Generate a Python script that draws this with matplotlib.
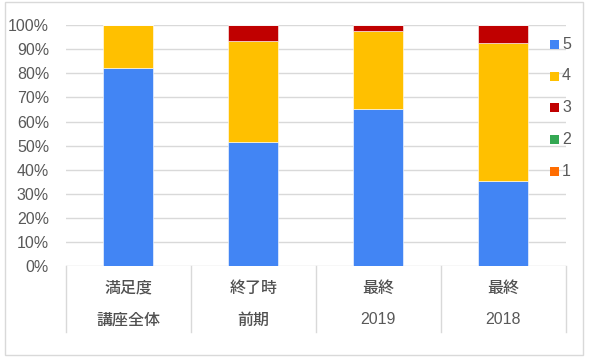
import matplotlib
matplotlib.use("Agg")
import matplotlib.pyplot as plt
from matplotlib.patches import Rectangle
import numpy as np

categories_line1 = ["満足度", "終了時", "最終", "最終"]
categories_line2 = ["講座全体", "前期", "2019", "2018"]
series_names = ["5", "4", "3", "2", "1"]
s5 = [82.4, 51.5, 65.0, 35.4]
s4 = [17.6, 42.1, 32.5, 57.4]
s3 = [0.0, 6.4, 2.5, 7.2]
s2 = [0.0, 0.0, 0.0, 0.0]
s1 = [0.0, 0.0, 0.0, 0.0]
series_values = [s5, s4, s3, s2, s1]
colors = ["#4285F4", "#FFC000", "#C00000", "#34A853", "#FF6D01"]
yticks = [0, 10, 20, 30, 40, 50, 60, 70, 80, 90, 100]

FONT = ["Liberation Sans", "Noto Sans CJK JP", "DejaVu Sans"]
plt.rcParams["font.family"] = FONT
TXT = "#595959"
GRID = "#D9D9D9"

W, H = 593, 358
fig = plt.figure(figsize=(W / 100, H / 100), dpi=100)

def fx(px):
    return px / W

def fy(py):
    return 1 - py / H

ax_l, ax_r, ax_t, ax_b = 65.7, 565.7, 25.3, 265.8
ax = fig.add_axes([fx(ax_l), fy(ax_b), fx(ax_r - ax_l), (ax_b - ax_t) / H])

x = np.arange(len(categories_line1))
bottom = np.zeros(len(x))
for name, vals, c in zip(series_names, series_values, colors):
    v = np.array(vals)
    ax.bar(x, v, width=0.4, bottom=bottom, color=c, edgecolor="white",
           linewidth=0.4, zorder=3)
    bottom += v

ax.set_xlim(-0.5, len(x) - 0.5)
ax.set_ylim(0, 100)
ax.set_yticks(yticks)
ax.set_yticklabels([f"{t}%" for t in yticks])
ax.tick_params(axis="y", length=0, pad=12, labelsize=11.5, labelcolor=TXT)
ax.tick_params(axis="x", length=0, labelbottom=False)
ax.set_xticks([])
for s in ax.spines.values():
    s.set_visible(False)
for t in yticks:
    ax.axhline(t, color=GRID, linewidth=1, zorder=1)

# category table below axis
sep_top, sep_bot = ax_b, 331.7
cat_w = (ax_r - ax_l) / len(x)
for i in range(len(x) + 1):
    xp = ax_l + i * cat_w
    fig.add_artist(plt.Line2D([fx(xp), fx(xp)], [fy(sep_top), fy(sep_bot)],
                              color=GRID, linewidth=1))

def is_cjk(s):
    return any(ord(ch) > 127 for ch in s)

for i in range(len(x)):
    xc = ax_l + (i + 0.5) * cat_w
    for lab, yp in ((categories_line1[i], 288), (categories_line2[i], 320)):
        cjk = is_cjk(lab)
        fig.text(fx(xc), fy(yp), lab, ha="center", va="center",
                 fontsize=11.5, color="#505050" if cjk else TXT,
                 fontweight="medium" if cjk else "normal",
                 family=(["Noto Sans CJK JP", "DejaVu Sans"] if cjk else FONT))

# legend
leg_y = [44.3, 76.0, 107.7, 139.3, 171.2]
for name, c, yp in zip(series_names, colors, leg_y):
    fig.add_artist(Rectangle((fx(550), fy(yp + 4.5)), fx(9), 9 / H,
                             facecolor=c, edgecolor="none"))
    fig.text(fx(562), fy(yp), name, ha="left", va="center", fontsize=11.5,
             color=TXT, family=FONT)

# outer border
fig.add_artist(Rectangle((fx(5), fy(354.7)), fx(583.3 - 5), (354.7 - 1.7) / H,
                         facecolor="none", edgecolor=GRID, linewidth=1))

fig.savefig("out.png", dpi=100)
